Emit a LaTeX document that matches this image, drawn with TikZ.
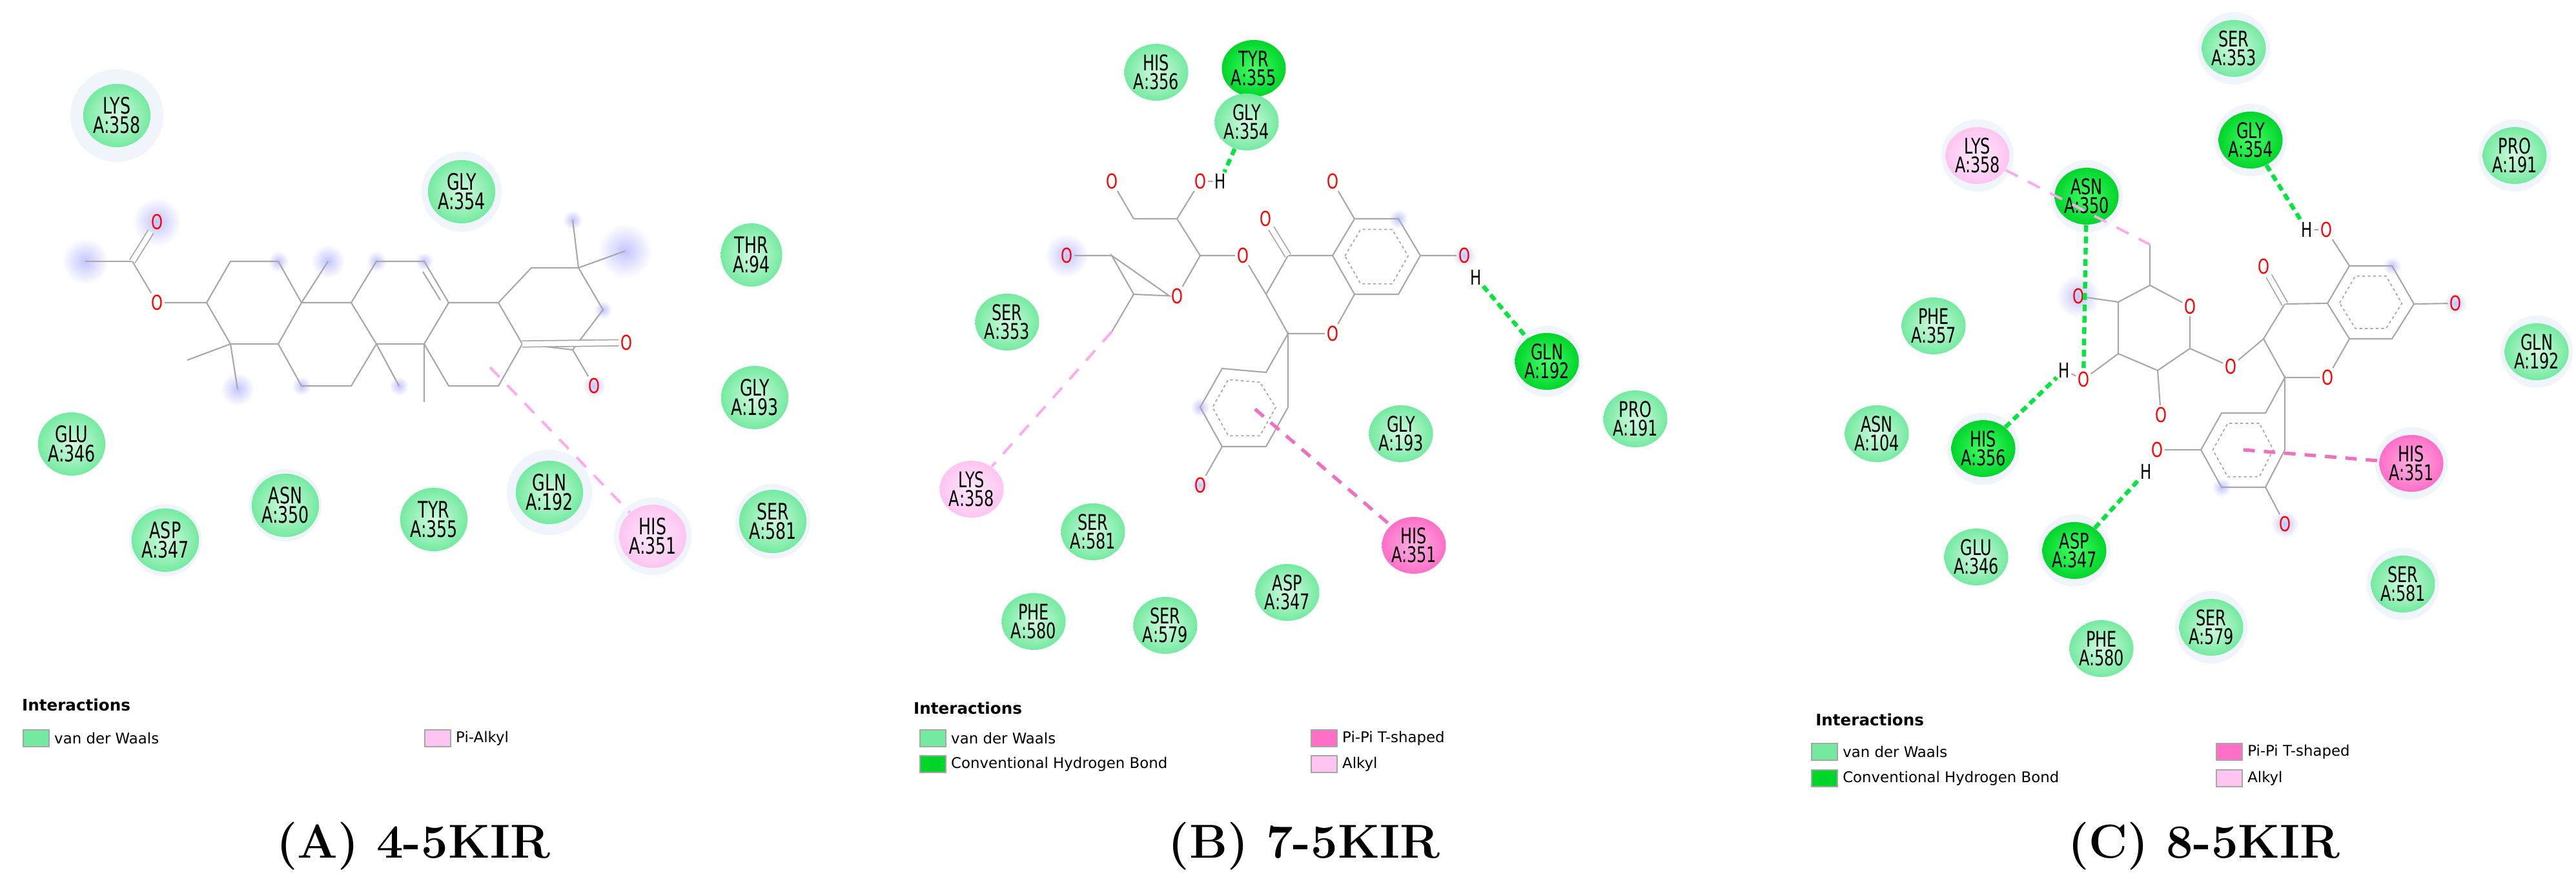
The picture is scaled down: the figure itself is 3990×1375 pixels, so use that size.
\documentclass[tikz,border=0pt]{standalone}
\usepackage{fontspec}
\usetikzlibrary{shapes.geometric,calc}
\newfontfamily\resfont[FakeStretch=0.72]{DejaVu Sans}
\newfontfamily\legfont{DejaVu Sans}
\definecolor{vdwout}{HTML}{74EAA0}
\definecolor{vdwin}{HTML}{D2FBE0}
\definecolor{hbout}{HTML}{00D52A}
\definecolor{hbin}{HTML}{45FF66}
\definecolor{ppout}{HTML}{FF6FC8}
\definecolor{ppin}{HTML}{FFB0E2}
\definecolor{alout}{HTML}{FFC4F2}
\definecolor{alin}{HTML}{FFEAFB}
\definecolor{glowc}{HTML}{C4C4FF}
\definecolor{haloc}{HTML}{F0F5FC}
\definecolor{bondc}{HTML}{A8A8A8}
\definecolor{hbline}{HTML}{00E63C}
\definecolor{alline}{HTML}{FFAAEE}
\definecolor{ppline}{HTML}{F070C0}
\newcommand\myglow[3]{\shade[inner color=glowc, outer color=white] (#1,#2) circle[radius=#3cm];}
\newcommand\myhalo[3]{\fill[haloc] (#1,#2) circle[radius=#3cm];}
\tikzset{
 res/.style={ellipse, minimum width=0.95cm, minimum height=0.98cm, inner sep=0pt, align=center,
   font=\resfont\fontsize{10}{8.6}\selectfont},
 resb/.style={res, minimum width=0.86cm, minimum height=0.88cm, font=\resfont\fontsize{9.5}{8.4}\selectfont},
 vdw/.style={inner color=vdwin, outer color=vdwout},
 hb/.style={inner color=hbin, outer color=hbout},
 pipi/.style={inner color=ppin, outer color=ppout},
 alk/.style={inner color=alin, outer color=alout},
 bond/.style={draw=bondc, line width=0.6pt},
 dbl/.style={draw=bondc, line width=0.5pt, double=white, double distance=2.2pt},
 arom/.style={draw=bondc, line width=0.5pt, dash pattern=on 1.2pt off 1.2pt},
 oat/.style={text=red, inner sep=0.6pt, font=\resfont\fontsize{9}{9}\selectfont},
 hat/.style={text=black, inner sep=0.6pt, font=\resfont\fontsize{9}{9}\selectfont},
 hbond/.style={draw=hbline, line width=1.8pt, dash pattern=on 3pt off 2pt},
 alkline/.style={draw=alline, line width=1.1pt, dash pattern=on 6pt off 5pt},
 ppdash/.style={draw=ppline, line width=1.5pt, dash pattern=on 5pt off 4pt},
 sw/.style={draw=gray!70, line width=0.8pt, minimum width=0.4cm, minimum height=0.26cm, inner sep=0pt},
 legt/.style={anchor=west, font=\legfont\fontsize{6.5}{7}\selectfont, inner sep=1pt},
 legh/.style={anchor=west, font=\legfont\bfseries\fontsize{7}{8}\selectfont, inner sep=1pt},
 capt/.style={font=\fontsize{21}{24}\selectfont\bfseries}
}
\begin{document}
\begin{tikzpicture}[x=0.01cm,y=-0.01cm]
\useasboundingbox (0,0) rectangle (3990,1375);
\fill[white] (0,0) rectangle (3990,1375);
% ===================== PANEL A =====================
\myhalo{181}{179}{0.72}
\myhalo{715}{297}{0.62}
\myhalo{851}{763}{0.66}
\myhalo{1011}{831}{0.6}
\myhalo{442}{783}{0.56}
\myhalo{256}{837}{0.56}
\myhalo{1197}{808}{0.58}
\myhalo{672}{805}{0.52}
\myglow{132}{405}{0.36}
\myglow{243}{344}{0.38}
\myglow{431}{405}{0.16}
\myglow{508}{405}{0.26}
\myglow{583}{405}{0.16}
\myglow{657}{405}{0.14}
\myglow{887}{341}{0.15}
\myglow{968}{389}{0.42}
\myglow{934}{480}{0.14}
\myglow{368}{603}{0.26}
\myglow{467}{598}{0.15}
\myglow{618}{598}{0.15}
\myglow{920}{598}{0.18}
\coordinate (Aa1) at (132,405);
\coordinate (Aa2) at (205,405);
\node[oat] (AO1) at (243,344) {O};
\node[oat] (AO2) at (243,469) {O};
\coordinate (Ar1) at (320,469);
\coordinate (Ar2) at (357,405);
\coordinate (Ar3) at (431,405);
\coordinate (Ar4) at (467,469);
\coordinate (Ar5) at (431,533);
\coordinate (Ar6) at (357,533);
\coordinate (Am1) at (290,558);
\coordinate (Am2) at (368,603);
\coordinate (Ab2) at (544,469);
\coordinate (Ab3) at (583,533);
\coordinate (Ab4) at (544,598);
\coordinate (Ab5) at (467,598);
\coordinate (Am3) at (508,405);
\coordinate (Ac2) at (583,405);
\coordinate (Ac3) at (657,405);
\coordinate (Ac4) at (695,469);
\coordinate (Ac5) at (657,533);
\coordinate (Adb1) at (655,421);
\coordinate (Adb2) at (682,465);
\coordinate (Am4) at (618,598);
\coordinate (Am5) at (657,623);
\coordinate (Ad2) at (772,469);
\coordinate (Ad3) at (809,533);
\coordinate (Ad4) at (772,598);
\coordinate (Ad5) at (695,598);
\coordinate (Ae2) at (823,415);
\coordinate (Ae3) at (896,415);
\coordinate (Ae4) at (934,480);
\coordinate (Ae5) at (887,542);
\coordinate (Am6) at (887,341);
\coordinate (Am7) at (968,389);
\node[oat] (AO3) at (970,531) {O};
\node[oat] (AO4) at (920,598) {O};
\coordinate (Api) at (759,569);
\draw[bond] (Aa1)--(Aa2);
\draw[dbl] (Aa2)--(AO1);
\draw[bond] (Aa2)--(AO2)--(Ar1);
\draw[bond] (Ar1)--(Ar2)--(Ar3)--(Ar4)--(Ar5)--(Ar6)--cycle;
\draw[bond] (Ar6)--(Am1) (Ar6)--(Am2) (Ar4)--(Am3);
\draw[bond] (Ar4)--(Ab2)--(Ab3)--(Ab4)--(Ab5)--(Ar5);
\draw[bond] (Ab2)--(Ac2)--(Ac3)--(Ac4)--(Ac5)--(Ab3);
\draw[bond] (Adb1)--(Adb2);
\draw[bond] (Ab3)--(Am4) (Ac5)--(Am5);
\draw[bond] (Ac4)--(Ad2)--(Ad3)--(Ad4)--(Ad5)--(Ac5);
\draw[bond] (Ad2)--(Ae2)--(Ae3)--(Ae4)--(Ae5)--(Ad3);
\draw[bond] (Ae3)--(Am6) (Ae3)--(Am7);
\draw[dbl] (Ad3)--(AO3);
\draw[bond] (Ae5)--(AO4);
\node[res,vdw] (ALYS358) at (181,179) {LYS\\A:358};
\node[res,vdw] (AGLY354) at (715,297) {GLY\\A:354};
\node[res,vdw] (ATHR94) at (1164,395) {THR\\A:94};
\node[res,vdw] (AGLY193) at (1169,616) {GLY\\A:193};
\node[res,vdw] (AGLU346) at (111,688) {GLU\\A:346};
\node[res,vdw] (AASN350) at (442,783) {ASN\\A:350};
\node[res,vdw] (AASP347) at (256,837) {ASP\\A:347};
\node[res,vdw] (ATYR355) at (672,805) {TYR\\A:355};
\node[res,vdw] (AGLN192) at (851,763) {GLN\\A:192};
\node[res,alk] (AHIS351) at (1011,831) {HIS\\A:351};
\node[res,vdw] (ASER581) at (1197,808) {SER\\A:581};
\draw[alkline] (Api)--(AHIS351);
% legend A
\node[legh] (AIh) at (30,1092) {Interactions};
\node[sw,fill=vdwout] (AS1) at (56,1144) {};
\node[legt] (AT1) at (80,1144) {van der Waals};
\node[sw,fill=alout] (AS2) at (678,1144) {};
\node[legt] (AT2) at (702,1144) {Pi-Alkyl};
\node[capt] (Acap) at (640,1311) {(A) 4-5KIR};
% ===================== PANEL B =====================
\myglow{1652}{396}{0.34}
\myglow{2166}{339}{0.15}
\myglow{2268}{396}{0.18}
\myglow{1859}{631}{0.15}
\myglow{1859}{752}{0.15}
\myhalo{2396}{560}{0.55}
\coordinate (Bs1) at (1756,339);
\coordinate (Bs2) at (1823,339);
\coordinate (Bs3) at (1859,396);
\node[oat] (BsO) at (1823,459) {O};
\coordinate (Bs5) at (1756,456);
\coordinate (Bs6) at (1722,396);
\node[oat] (BO1) at (1722,281) {O};
\node[oat] (BO2) at (1859,281) {O};
\node[hat] (BH2) at (1890,281) {H};
\node[oat] (BO3) at (1652,396) {O};
\coordinate (BMe) at (1722,514);
\node[oat] (BOg) at (1925,396) {O};
\coordinate (Bc3) at (1961,456);
\coordinate (Bc4) at (1995,396);
\node[oat] (BO4) at (1960,339) {O};
\coordinate (Bc4a) at (2064,396);
\coordinate (Bc8a) at (2098,456);
\node[oat] (BO1r) at (2064,517) {O};
\coordinate (Bc2) at (1995,517);
\coordinate (Bc5) at (2098,339);
\coordinate (Bc6) at (2166,339);
\coordinate (Bc7) at (2200,396);
\coordinate (Bc8) at (2166,456);
\node[oat] (BO5) at (2064,281) {O};
\node[oat] (BO7) at (2268,396) {O};
\node[hat] (BH7) at (2286,430) {H};
\coordinate (Bb1) at (1961,577);
\coordinate (Bb2) at (1893,571);
\coordinate (Bb3) at (1859,631);
\coordinate (Bb4) at (1893,692);
\coordinate (Bb5) at (1961,692);
\coordinate (Bb6) at (1995,631);
\node[oat] (BOb) at (1859,752) {O};
\coordinate (Bbc) at (1927,632);
\coordinate (Bpi) at (1944,634);
\coordinate (Bac) at (2132,398);
\draw[bond] (Bs1)--(Bs2)--(Bs3)--(BsO)--(Bs5)--(Bs6)--cycle;
\draw[bond] (Bs1)--(BO1) (Bs2)--(BO2) (BO2)--(BH2) (Bs6)--(BO3) (Bs5)--(BMe);
\draw[bond] (Bs3)--(BOg)--(Bc3);
\draw[bond] (Bc3)--(Bc4)--(Bc4a)--(Bc8a)--(BO1r)--(Bc2)--(Bc3);
\draw[dbl] (Bc4)--(BO4);
\draw[bond] (Bc4a)--(Bc5)--(Bc6)--(Bc7)--(Bc8)--(Bc8a);
\draw[arom] ($(Bac)!0.72!(Bc4a)$)--($(Bac)!0.72!(Bc5)$)--($(Bac)!0.72!(Bc6)$)--($(Bac)!0.72!(Bc7)$)--($(Bac)!0.72!(Bc8)$)--($(Bac)!0.72!(Bc8a)$)--cycle;
\draw[bond] (Bc5)--(BO5) (Bc7)--(BO7);
\draw[bond] (Bc2)--(Bb1)--(Bb2)--(Bb3)--(Bb4)--(Bb5)--(Bb6)--cycle;
\draw[arom] ($(Bbc)!0.72!(Bb1)$)--($(Bbc)!0.72!(Bb2)$)--($(Bbc)!0.72!(Bb3)$)--($(Bbc)!0.72!(Bb4)$)--($(Bbc)!0.72!(Bb5)$)--($(Bbc)!0.72!(Bb6)$)--cycle;
\draw[bond] (Bb4)--(BOb);
\node[resb,vdw] (BHIS356) at (1791,112) {HIS\\A:356};
\node[resb,hb] (BTYR355) at (1942,106) {TYR\\A:355};
\node[resb,vdw] (BGLY354) at (1931,189) {GLY\\A:354};
\node[resb,vdw] (BSER353) at (1560,499) {SER\\A:353};
\node[resb,hb] (BGLN192) at (2396,560) {GLN\\A:192};
\node[resb,vdw] (BPRO191) at (2533,649) {PRO\\A:191};
\node[resb,vdw] (BGLY193) at (2170,672) {GLY\\A:193};
\node[resb,alk] (BLYS358) at (1505,758) {LYS\\A:358};
\node[resb,vdw] (BSER581) at (1693,824) {SER\\A:581};
\node[resb,pipi] (BHIS351) at (2190,845) {HIS\\A:351};
\node[resb,vdw] (BASP347) at (1994,918) {ASP\\A:347};
\node[resb,vdw] (BPHE580) at (1601,963) {PHE\\A:580};
\node[resb,vdw] (BSER579) at (1805,969) {SER\\A:579};
\draw[hbond] (BGLY354)--(BH2);
\draw[hbond] (BH7)--(BGLN192);
\draw[alkline] (BMe)--(BLYS358);
\draw[ppdash] (Bpi)--(BHIS351);
% legend B
\node[legh] (BIh) at (1411,1097) {Interactions};
\node[sw,fill=vdwout] (BS1) at (1445,1144) {};
\node[legt] (BT1) at (1469,1144) {van der Waals};
\node[sw,fill=hbout] (BS2) at (1445,1184) {};
\node[legt] (BT2) at (1469,1184) {Conventional Hydrogen Bond};
\node[sw,fill=ppout] (BS3) at (2051,1144) {};
\node[legt] (BT3) at (2075,1144) {Pi-Pi T-shaped};
\node[sw,fill=alout] (BS4) at (2051,1184) {};
\node[legt] (BT4) at (2075,1184) {Alkyl};
\node[capt] (Bcap) at (2020,1311) {(B) 7-5KIR};
% ===================== PANEL C =====================
\foreach \px/\py in {3460/75,3486/217,3895/241,3063/241,3232/304,3929/545,3072/695,3735/718,3722/905,3425/972,3213/853}{\myhalo{\px}{\py}{0.56}}
\myglow{3219}{459}{0.34}
\myglow{3705}{412}{0.14}
\myglow{3803}{470}{0.18}
\myglow{3441}{755}{0.15}
\myglow{3539}{812}{0.22}
\coordinate (Cs5) at (3330,442);
\node[oat] (CsO) at (3392,475) {O};
\coordinate (Cs1) at (3392,540);
\coordinate (Cs2) at (3342,574);
\coordinate (Cs3) at (3281,548);
\coordinate (Cs4) at (3281,468);
\coordinate (CMe) at (3330,379);
\node[oat] (CO4) at (3219,459) {O};
\node[oat] (CO3) at (3227,588) {O};
\node[hat] (CH3) at (3197,574) {H};
\node[oat] (CO2) at (3347,643) {O};
\node[oat] (COg) at (3455,568) {O};
\coordinate (Cc3) at (3506,525);
\coordinate (Cc4) at (3539,471);
\node[oat] (CO4k) at (3506,413) {O};
\coordinate (Cc4a) at (3605,470);
\coordinate (Cc5) at (3639,412);
\coordinate (Cc6) at (3705,412);
\coordinate (Cc7) at (3739,471);
\coordinate (Cc8) at (3705,525);
\coordinate (Cc8a) at (3639,525);
\node[oat] (CO1r) at (3605,585) {O};
\coordinate (Cc2) at (3539,585);
\node[oat] (CO5) at (3603,356) {O};
\node[hat] (CH5) at (3573,356) {H};
\node[oat] (CO7) at (3803,470) {O};
\coordinate (Cb1) at (3509,640);
\coordinate (Cb2) at (3441,640);
\coordinate (Cb3) at (3409,697);
\coordinate (Cb4) at (3441,755);
\coordinate (Cb5) at (3509,755);
\coordinate (Cb6) at (3539,697);
\node[oat] (COb3) at (3341,697) {O};
\node[hat] (CHb3) at (3324,731) {H};
\node[oat] (COb4) at (3539,812) {O};
\coordinate (Cac) at (3672,468);
\coordinate (Cbc) at (3475,697);
\draw[bond] (Cs5)--(CsO)--(Cs1)--(Cs2)--(Cs3)--(Cs4)--(Cs5);
\draw[bond] (Cs5)--(CMe) (Cs4)--(CO4) (Cs3)--(CO3) (CO3)--(CH3) (Cs2)--(CO2);
\draw[bond] (Cs1)--(COg)--(Cc3);
\draw[bond] (Cc3)--(Cc4)--(Cc4a)--(Cc8a)--(CO1r)--(Cc2)--(Cc3);
\draw[dbl] (Cc4)--(CO4k);
\draw[bond] (Cc4a)--(Cc5)--(Cc6)--(Cc7)--(Cc8)--(Cc8a);
\draw[arom] ($(Cac)!0.72!(Cc4a)$)--($(Cac)!0.72!(Cc5)$)--($(Cac)!0.72!(Cc6)$)--($(Cac)!0.72!(Cc7)$)--($(Cac)!0.72!(Cc8)$)--($(Cac)!0.72!(Cc8a)$)--cycle;
\draw[bond] (Cc5)--(CO5)--(CH5) (Cc7)--(CO7);
\draw[bond] (Cc2)--(Cb1)--(Cb2)--(Cb3)--(Cb4)--(Cb5)--(Cb6)--cycle;
\draw[arom] ($(Cbc)!0.72!(Cb1)$)--($(Cbc)!0.72!(Cb2)$)--($(Cbc)!0.72!(Cb3)$)--($(Cbc)!0.72!(Cb4)$)--($(Cbc)!0.72!(Cb5)$)--($(Cbc)!0.72!(Cb6)$)--cycle;
\draw[bond] (Cb3)--(COb3) (Cb5)--(COb4);
\node[resb,vdw] (CSER353) at (3460,75) {SER\\A:353};
\node[resb,hb] (CGLY354) at (3486,217) {GLY\\A:354};
\node[resb,vdw] (CPRO191) at (3895,241) {PRO\\A:191};
\node[resb,alk] (CLYS358) at (3063,241) {LYS\\A:358};
\node[resb,hb] (CASN350) at (3232,304) {ASN\\A:350};
\node[resb,vdw] (CPHE357) at (2995,505) {PHE\\A:357};
\node[resb,vdw] (CGLN192) at (3929,545) {GLN\\A:192};
\node[resb,vdw] (CASN104) at (2907,672) {ASN\\A:104};
\node[resb,hb] (CHIS356) at (3072,695) {HIS\\A:356};
\node[resb,pipi] (CHIS351) at (3735,718) {HIS\\A:351};
\node[resb,vdw] (CGLU346) at (3061,863) {GLU\\A:346};
\node[resb,hb] (CASP347) at (3213,853) {ASP\\A:347};
\node[resb,vdw] (CSER581) at (3722,905) {SER\\A:581};
\node[resb,vdw] (CSER579) at (3425,972) {SER\\A:579};
\node[resb,vdw] (CPHE580) at (3255,1005) {PHE\\A:580};
\draw[hbond] (CGLY354)--(CH5);
\draw[hbond] (CASN350)--(CO3);
\draw[hbond] (CHIS356)--(CH3);
\draw[hbond] (CASP347)--(CHb3);
\draw[alkline] (CLYS358)--(CMe);
\draw[ppdash] (Cbc)--(CHIS351);
% legend C
\node[legh] (CIh) at (2808,1115) {Interactions};
\node[sw,fill=vdwout] (CS1) at (2826,1165) {};
\node[legt] (CT1) at (2850,1165) {van der Waals};
\node[sw,fill=hbout] (CS2) at (2826,1206) {};
\node[legt] (CT2) at (2850,1206) {Conventional Hydrogen Bond};
\node[sw,fill=ppout] (CS3) at (3453,1165) {};
\node[legt] (CT3) at (3477,1165) {Pi-Pi T-shaped};
\node[sw,fill=alout] (CS4) at (3453,1206) {};
\node[legt] (CT4) at (3477,1206) {Alkyl};
\node[capt] (Ccap) at (3414,1311) {(C) 8-5KIR};
\end{tikzpicture}
\end{document}
